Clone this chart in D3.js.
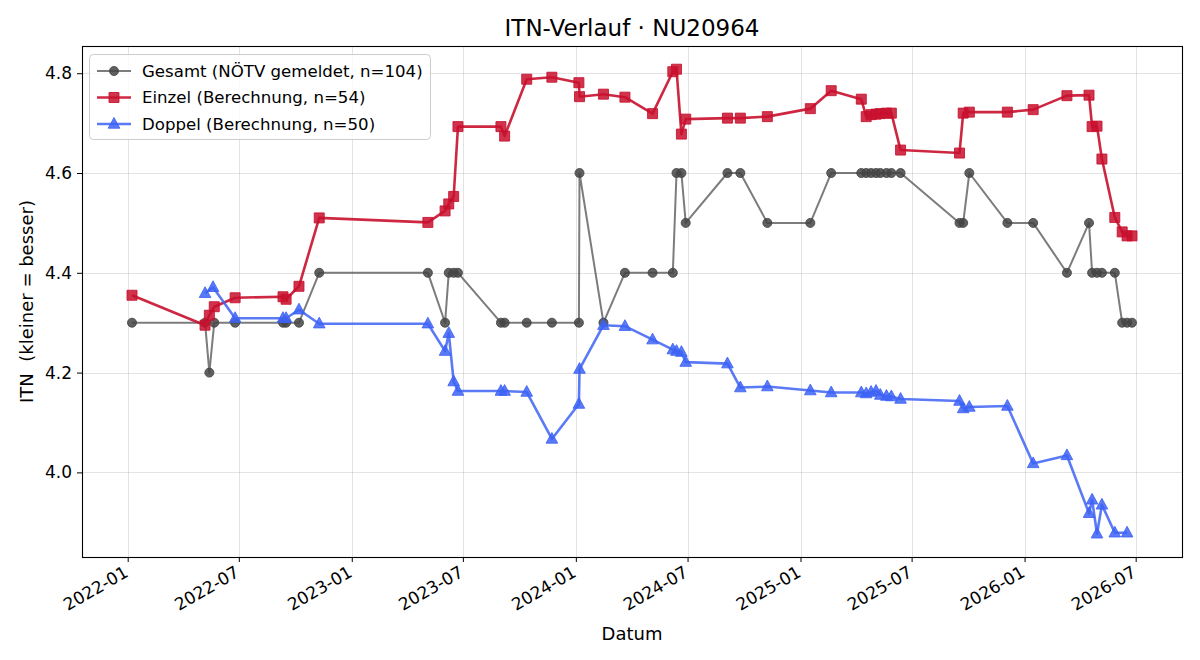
<!DOCTYPE html>
<html>
<head>
<meta charset="utf-8">
<script src="https://cdn.jsdelivr.net/npm/d3@7"></script>
<style>
  body { margin: 0; background: #fff; }
  svg { font-family: "DejaVu Sans", sans-serif; }
</style>
</head>
<body>
<div id="chart"></div>
<script>
// Gesamt (NÖTV gemeldet)
const gesamtDates = ["2022-01-08","2022-05-07","2022-05-14","2022-05-22","2022-06-25","2022-09-11","2022-09-16","2022-10-07","2022-11-09",
  "2023-05-05","2023-06-02","2023-06-08","2023-06-16","2023-06-23","2023-09-01","2023-09-07","2023-10-13","2023-11-23",
  "2024-01-06","2024-01-07","2024-02-15","2024-03-21","2024-05-05","2024-06-07","2024-06-13","2024-06-21","2024-06-28","2024-09-04","2024-09-25","2024-11-08",
  "2025-01-17","2025-02-20","2025-04-10","2025-04-18","2025-04-26","2025-05-04","2025-05-11","2025-05-21","2025-05-29","2025-06-13","2025-09-17","2025-09-23","2025-10-03","2025-12-04",
  "2026-01-15","2026-03-11","2026-04-16","2026-04-21","2026-04-29","2026-05-07","2026-05-28","2026-06-09","2026-06-17","2026-06-25"];
const gesamtValues = [4.3,4.3,4.2,4.3,4.3,4.3,4.3,4.3,4.4,
  4.4,4.3,4.4,4.4,4.4,4.3,4.3,4.3,4.3,
  4.3,4.6,4.3,4.4,4.4,4.4,4.6,4.6,4.5,4.6,4.6,4.5,
  4.5,4.6,4.6,4.6,4.6,4.6,4.6,4.6,4.6,4.6,4.5,4.5,4.6,4.5,
  4.5,4.4,4.5,4.4,4.4,4.4,4.4,4.3,4.3,4.3];

// Einzel (Berechnung)
const einzelDates = gesamtDates;
const einzelValues = [4.355,4.295,4.315,4.332,4.350,4.352,4.347,4.373,4.510,
  4.501,4.524,4.538,4.553,4.693,4.693,4.674,4.788,4.792,
  4.781,4.753,4.758,4.752,4.719,4.803,4.808,4.678,4.708,4.710,4.710,4.713,
  4.729,4.765,4.748,4.713,4.717,4.718,4.719,4.720,4.720,4.646,4.640,4.720,4.722,4.722,
  4.727,4.755,4.756,4.693,4.694,4.628,4.511,4.482,4.474,4.474];

// Doppel (Berechnung)
const doppelDates = ["2022-05-07","2022-05-20","2022-06-25","2022-09-11","2022-09-16","2022-10-07","2022-11-09",
  "2023-05-05","2023-06-02","2023-06-08","2023-06-16","2023-06-23","2023-09-01","2023-09-07","2023-10-13","2023-11-23",
  "2024-01-06","2024-01-07","2024-02-15","2024-03-21","2024-05-05","2024-06-07","2024-06-13","2024-06-21","2024-06-28","2024-09-04","2024-09-25","2024-11-08",
  "2025-01-17","2025-02-20","2025-04-10","2025-04-18","2025-04-26","2025-05-04","2025-05-11","2025-05-21","2025-05-29","2025-06-13","2025-09-17","2025-09-23","2025-10-03","2025-12-04",
  "2026-01-15","2026-03-11","2026-04-16","2026-04-21","2026-04-29","2026-05-07","2026-05-28","2026-06-17"];
const doppelValues = [4.359,4.371,4.309,4.309,4.309,4.326,4.298,
  4.298,4.243,4.279,4.182,4.163,4.163,4.163,4.161,4.067,
  4.137,4.207,4.295,4.293,4.266,4.246,4.243,4.241,4.221,4.218,4.170,4.172,
  4.164,4.160,4.160,4.158,4.161,4.163,4.155,4.153,4.152,4.147,4.143,4.128,4.131,4.133,
  4.018,4.034,3.918,3.945,3.877,3.935,3.879,3.879];

const yTicks = [4.0, 4.2, 4.4, 4.6, 4.8];
const xTickDates = ["2022-01-01","2022-07-01","2023-01-01","2023-07-01","2024-01-01","2024-07-01","2025-01-01","2025-07-01","2026-01-01","2026-07-01"];

const titleText = "ITN-Verlauf · NU20964";
const xLabel = "Datum";
const yLabel = "ITN  (kleiner = besser)";

const parse = d3.timeParse("%Y-%m-%d");
const fmt = d3.timeFormat("%Y-%m");
const FONT = "'DejaVu Sans', sans-serif";

const series = [
  {name: "Gesamt (NÖTV gemeldet, n=104)", dates: gesamtDates, values: gesamtValues, line: "#444", lineOp: 0.7, lw: 2, marker: "circle", fill: "#444", fillOp: 0.85},
  {name: "Einzel (Berechnung, n=54)", dates: einzelDates, values: einzelValues, line: "#c8102e", lineOp: 0.9, lw: 2.6, marker: "square", fill: "#c8102e", fillOp: 0.85},
  {name: "Doppel (Berechnung, n=50)", dates: doppelDates, values: doppelValues, line: "#3d63f5", lineOp: 0.85, lw: 2.6, marker: "triangle", fill: "#3d63f5", fillOp: 0.85}
];
series.forEach(s => s.data = s.dates.map((d, i) => ({date: parse(d), value: s.values[i]})));

const width = 1200, height = 660;
const margin = {top: 46, right: 18, bottom: 103, left: 82};

const svg = d3.select("#chart").append("svg")
  .attr("width", width).attr("height", height)
  .attr("viewBox", [0, 0, width, height]);

// Bereich wie matplotlib: 5% Rand
const allPts = series.flatMap(s => s.data);
const xExt = d3.extent(allPts, d => d.date);
const xPad = (xExt[1] - xExt[0]) * 0.05;
const yExt = d3.extent(allPts, d => d.value);
const yPad = (yExt[1] - yExt[0]) * 0.05;

const x = d3.scaleTime()
  .domain([new Date(+xExt[0] - xPad), new Date(+xExt[1] + xPad)])
  .range([margin.left, width - margin.right]);
const y = d3.scaleLinear()
  .domain([yExt[0] - yPad, yExt[1] + yPad])
  .range([height - margin.bottom, margin.top]);

const plotBottom = height - margin.bottom;
const plotRight = width - margin.right;

// Gitter
const grid = svg.append("g").attr("stroke", "#b0b0b0").attr("stroke-opacity", 0.35).attr("stroke-width", 1);
xTickDates.forEach(d => {
  const px = Math.round(x(parse(d))) + 0.5;
  grid.append("line").attr("x1", px).attr("x2", px).attr("y1", margin.top).attr("y2", plotBottom);
});
yTicks.forEach(v => {
  const py = Math.round(y(v)) + 0.5;
  grid.append("line").attr("x1", margin.left).attr("x2", plotRight).attr("y1", py).attr("y2", py);
});

// Achsen (d3 setzt font-family="sans-serif" am g, daher überschreiben)
const xAxis = svg.append("g")
  .attr("transform", `translate(0,${plotBottom})`)
  .call(d3.axisBottom(x).tickValues(xTickDates.map(parse)).tickFormat(fmt).tickSizeOuter(0).tickSize(5))
  .attr("font-family", FONT).attr("font-size", 17);
xAxis.select(".domain").remove();
xAxis.selectAll("text")
  .style("font-family", FONT).style("font-size", "17px").attr("fill", "#000")
  .attr("text-anchor", "end")
  .attr("x", 0).attr("y", 0).attr("dx", 0).attr("dy", "0.72em")
  .attr("transform", "translate(-5,8) rotate(-30)");
xAxis.selectAll("line").attr("stroke", "#000").attr("stroke-width", 1);

const yAxis = svg.append("g")
  .attr("transform", `translate(${margin.left},0)`)
  .call(d3.axisLeft(y).tickValues(yTicks).tickFormat(d3.format(".1f")).tickSizeOuter(0).tickSize(5))
  .attr("font-family", FONT).attr("font-size", 17);
yAxis.select(".domain").remove();
yAxis.selectAll("text").style("font-family", FONT).style("font-size", "17px").attr("fill", "#000").attr("x", -10);
yAxis.selectAll("line").attr("stroke", "#000").attr("stroke-width", 1);

// Linien und Marker
const line = d3.line().x(d => x(d.date)).y(d => y(d.value));
const markerPath = {
  circle: d3.symbol(d3.symbolCircle, 64)(),
  square: "M-5,-5H5V5H-5Z",
  triangle: "M0,-6.5L5.8,4.2L-5.8,4.2Z"
};

series.forEach(s => {
  const g = svg.append("g");
  g.append("path").datum(s.data)
    .attr("fill", "none").attr("stroke", s.line).attr("stroke-opacity", s.lineOp)
    .attr("stroke-width", s.lw).attr("stroke-linejoin", "round").attr("d", line);
  g.selectAll("path.mk").data(s.data).join("path")
    .attr("class", "mk")
    .attr("d", markerPath[s.marker])
    .attr("transform", d => `translate(${x(d.date)},${y(d.value)})`)
    .attr("fill", s.fill).attr("fill-opacity", s.fillOp)
    .attr("stroke", s.fill).attr("stroke-opacity", s.fillOp).attr("stroke-width", 1);
});

// Rahmen
svg.append("rect")
  .attr("x", margin.left + 0.5).attr("y", margin.top + 0.5)
  .attr("width", plotRight - margin.left).attr("height", plotBottom - margin.top)
  .attr("fill", "none").attr("stroke", "#000").attr("stroke-width", 1.1);

// Titel und Beschriftungen
svg.append("text").attr("x", (margin.left + plotRight) / 2).attr("y", 36)
  .attr("text-anchor", "middle").style("font-size", "23px").text(titleText);
svg.append("text").attr("x", (margin.left + plotRight) / 2).attr("y", 640)
  .attr("text-anchor", "middle").style("font-size", "18px").text(xLabel);
svg.append("text").attr("transform", `translate(33,${(margin.top + plotBottom) / 2}) rotate(-90)`)
  .attr("text-anchor", "middle").style("font-size", "18px").style("white-space", "pre").text(yLabel);

// Legende
const leg = svg.append("g").attr("transform", "translate(89,54)");
leg.append("rect").attr("x", 0.5).attr("y", 0.5).attr("width", 341).attr("height", 85).attr("rx", 4)
  .attr("fill", "#fff").attr("fill-opacity", 0.8).attr("stroke", "#ccc");
series.forEach((s, i) => {
  const cy = 17 + i * 26.5;
  leg.append("line").attr("x1", 8).attr("x2", 42).attr("y1", cy).attr("y2", cy)
    .attr("stroke", s.line).attr("stroke-opacity", s.lineOp).attr("stroke-width", s.lw);
  leg.append("path").attr("d", markerPath[s.marker]).attr("transform", `translate(25,${cy})`)
    .attr("fill", s.fill).attr("fill-opacity", s.fillOp)
    .attr("stroke", s.fill).attr("stroke-opacity", s.fillOp);
  leg.append("text").attr("x", 53).attr("y", cy + 5.5).style("font-size", "16.6px").text(s.name);
});
</script>
</body>
</html>
